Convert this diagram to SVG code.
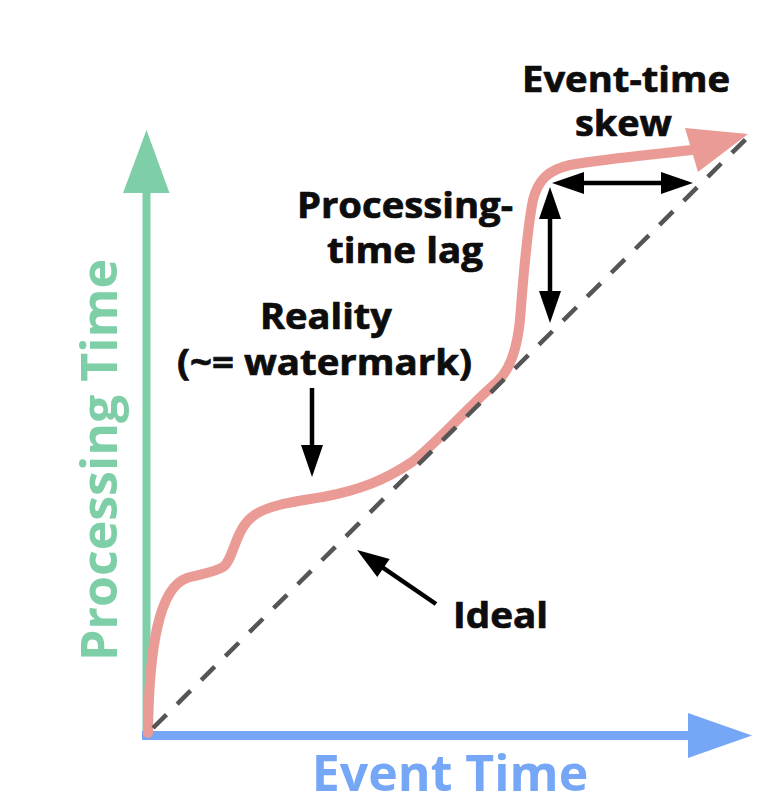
<svg xmlns="http://www.w3.org/2000/svg" width="784" height="803" viewBox="0 0 784 803">
<style>
.lbl{font-family:"Open Sans","Noto Sans","DejaVu Sans",sans-serif;font-weight:700;font-size:35px;fill:#0d0d0d;stroke:#0d0d0d;stroke-width:0.7;stroke-linejoin:round}
.axis-lbl{font-family:"Open Sans","Noto Sans","DejaVu Sans",sans-serif;font-weight:700;font-size:50px}
.conn{stroke:#000;stroke-width:4.5;fill:none;marker-end:url(#ah)}
.dbl{marker-start:url(#ah)}
</style>
<defs>
<marker id="ah" markerUnits="userSpaceOnUse" markerWidth="34" markerHeight="24" viewBox="0 0 34 24" refX="23" refY="12" orient="auto-start-reverse">
<path d="M1,1 L33,12 L1,23 z" fill="#000"/>
</marker>
</defs>
<rect width="784" height="803" fill="#fff"/>

<g id="y-axis">
<line x1="146.5" y1="740" x2="146.5" y2="190" stroke="#7ecfa7" stroke-width="8"/>
<polygon points="123,193 169.5,193 146.5,130" fill="#7ecfa7"/>
<text class="axis-lbl" transform="translate(117,460) rotate(-90)" text-anchor="middle" fill="#7ecfa7">Processing Time</text>
</g>

<g id="x-axis">
<line x1="142" y1="735.5" x2="690" y2="735.5" stroke="#76a7f7" stroke-width="9"/>
<polygon points="688,713 688,758 752,735.5" fill="#76a7f7"/>
<text class="axis-lbl" x="450" y="791" text-anchor="middle" fill="#76a7f7">Event Time</text>
</g>

<g id="reality-curve">
<path d="M148,733 C149,650 158,588 187,578 C200,574 213,573 223,567 C233,561 235,530 252,517 C265,506 290,502 323,497 C360,490 385,480 412,462 C435,445 470,405 497,382 C510,370 517,350 520,320 C523,280 527,230 533,200 C538,180 548,170 570,165 C610,158 650,155 692,150" fill="none" stroke="#eb9b95" stroke-width="10" stroke-linecap="round"/>
<polygon points="685,128 748,134 698,172" fill="#eb9b95"/>
</g>

<g id="ideal-line">
<line x1="153" y1="728" x2="753" y2="132" stroke="#555" stroke-width="4.5" stroke-dasharray="19 15"/>
</g>

<g id="connectors">
<line class="conn dbl" x1="562" y1="183" x2="683" y2="183"/>
<line class="conn dbl" x1="550" y1="197" x2="550" y2="313"/>
<line class="conn" x1="312" y1="388" x2="312" y2="467"/>
<line class="conn" x1="436" y1="604" x2="365.3" y2="555.6"/>
</g>

<g id="label-skew">
<text class="lbl" x="522" y="92" textLength="208" lengthAdjust="spacingAndGlyphs">Event-time</text>
<text class="lbl" x="575" y="136" textLength="97" lengthAdjust="spacingAndGlyphs">skew</text>
</g>
<g id="label-lag">
<text class="lbl" x="297" y="218" textLength="216" lengthAdjust="spacingAndGlyphs">Processing-</text>
<text class="lbl" x="327" y="263" textLength="156" lengthAdjust="spacingAndGlyphs">time lag</text>
</g>
<g id="label-reality">
<text class="lbl" x="260" y="329" textLength="132" lengthAdjust="spacingAndGlyphs">Reality</text>
<text class="lbl" x="177" y="375" textLength="295" lengthAdjust="spacingAndGlyphs">(~= watermark)</text>
</g>
<g id="label-ideal">
<text class="lbl" x="453" y="628" textLength="95" lengthAdjust="spacingAndGlyphs">Ideal</text>
</g>
</svg>
